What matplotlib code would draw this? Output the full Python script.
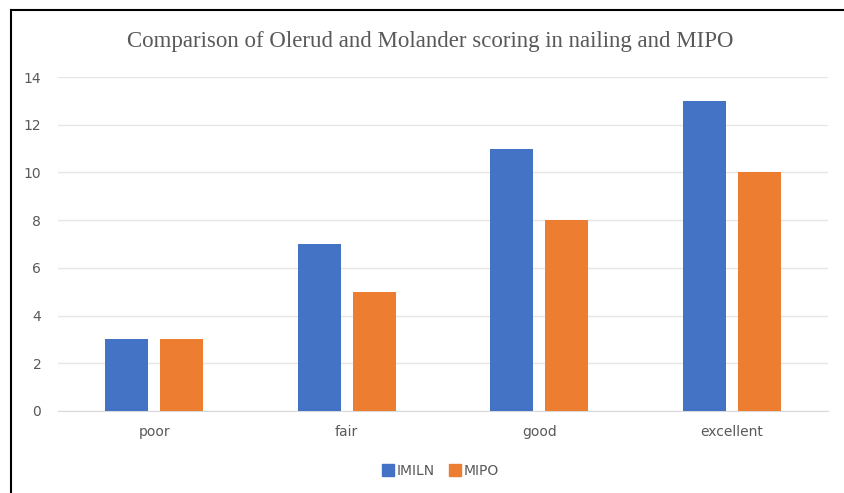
import numpy as np
import matplotlib.pyplot as plt
from matplotlib.lines import Line2D

categories = ['poor', 'fair', 'good', 'excellent']
imiln = [3, 7, 11, 13]
mipo = [3, 5, 8, 10]
series_names = ['IMILN', 'MIPO']
yticks = [0, 2, 4, 6, 8, 10, 12, 14]

blue = '#4472C4'
orange = '#ED7D31'
grey = '#595959'

fig = plt.figure(figsize=(8.45, 4.93), dpi=100)
ax = fig.add_axes([58 / 845, 1 - 411 / 493, 770 / 845, 334 / 493])

x = np.arange(len(categories))
w = 0.225
gap = 0.06
ax.bar(x - (w + gap) / 2, imiln, width=w, color=blue, zorder=3)
ax.bar(x + (w + gap) / 2, mipo, width=w, color=orange, zorder=3)

ax.set_xlim(-0.5, len(categories) - 0.5)
ax.set_ylim(0, 14)
ax.set_yticks(yticks)
ax.set_xticks(x)
ax.set_xticklabels(categories)
ax.grid(axis='y', color='#e6e6e6', linewidth=1, zorder=0)
ax.tick_params(axis='both', length=0, colors=grey, labelsize=10)
ax.tick_params(axis='y', pad=12)
ax.tick_params(axis='x', pad=10)
for side in ['top', 'right', 'left']:
    ax.spines[side].set_visible(False)
ax.spines['bottom'].set_color('#d9d9d9')

fig.text(430 / 845, 1 - 42 / 493, 'Comparison of Olerud and Molander scoring in nailing and MIPO',
         ha='center', va='center', fontsize=16.5, color=grey, family='Liberation Serif')

handles = [Line2D([], [], marker='s', linestyle='', markersize=8, color=c) for c in [blue, orange]]
fig.legend(handles, series_names, loc='center', bbox_to_anchor=(440 / 845, 1 - 471 / 493),
           ncol=2, frameon=False, fontsize=10, labelcolor=grey, handletextpad=0.1,
           columnspacing=1.0, handlelength=1.0)

# black frame on the top and left edges
fig.add_artist(Line2D([11 / 845, 11 / 845], [0, 1 - 10 / 493], color='black', linewidth=1.5,
                      transform=fig.transFigure))
fig.add_artist(Line2D([11 / 845, 1], [1 - 10 / 493, 1 - 10 / 493], color='black', linewidth=1.5,
                      transform=fig.transFigure))

fig.savefig('out.png', dpi=100)
